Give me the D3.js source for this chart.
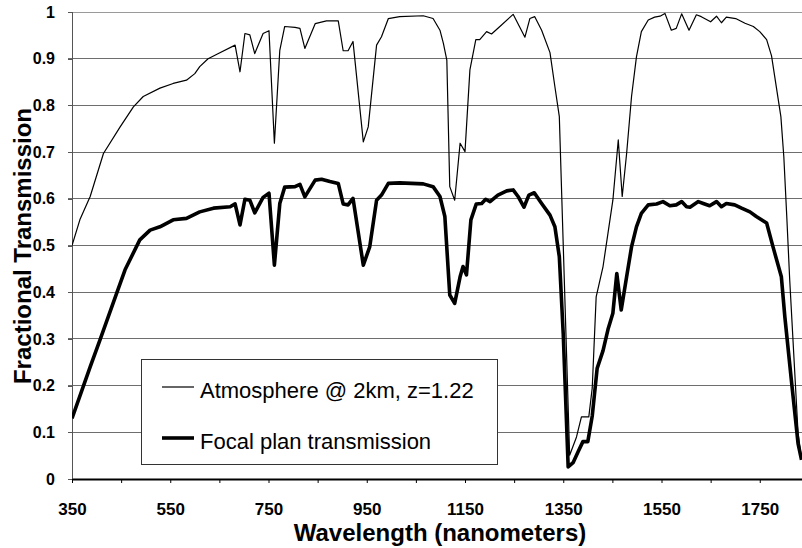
<!DOCTYPE html>
<html>
<head>
<meta charset="utf-8">
<script src="https://cdn.jsdelivr.net/npm/d3@7"></script>
<style>
  html, body { margin: 0; padding: 0; background: #fff; }
  svg { display: block; font-family: "Liberation Sans", Arial, sans-serif; }
</style>
</head>
<body>
<svg id="chart" width="802" height="548"></svg>
<script>
// Atmosphere @ 2km, z=1.22 (thin line)
const atmWavelength = [350, 366, 387, 414, 448, 475, 495, 529, 556, 583, 600, 610, 627, 648, 682, 692, 702, 712, 722, 739,
  751, 762, 773, 783, 804, 814, 824, 845, 868, 892, 902, 912, 922, 943, 953, 970, 980, 994, 1017, 1065,
  1085, 1099, 1106, 1113, 1119, 1129, 1140, 1150, 1160, 1172, 1180, 1194, 1204, 1221, 1248, 1272, 1282, 1292, 1306, 1323,
  1333, 1342, 1363, 1377, 1387, 1402, 1409, 1417, 1431, 1441, 1451, 1462, 1470, 1479, 1489, 1499, 1509, 1523, 1536, 1547,
  1557, 1570, 1580, 1591, 1606, 1621, 1631, 1650, 1662, 1672, 1682, 1701, 1720, 1737, 1750, 1764, 1774, 1793, 1799, 1805,
  1811, 1828, 1835];
const atmTransmission = [0.50, 0.555, 0.605, 0.697, 0.754, 0.797, 0.819, 0.837, 0.847, 0.854, 0.868, 0.883, 0.90, 0.911, 0.929, 0.872, 0.954, 0.951, 0.911, 0.954,
  0.96, 0.719, 0.918, 0.969, 0.967, 0.965, 0.922, 0.975, 0.981, 0.981, 0.917, 0.917, 0.937, 0.722, 0.754, 0.929, 0.947, 0.986, 0.99, 0.992,
  0.986, 0.961, 0.933, 0.897, 0.626, 0.597, 0.719, 0.701, 0.876, 0.941, 0.941, 0.958, 0.953, 0.969, 0.995, 0.946, 0.986, 0.99, 0.961, 0.913,
  0.84, 0.776, 0.051, 0.09, 0.133, 0.133, 0.195, 0.39, 0.455, 0.526, 0.597, 0.726, 0.605, 0.697, 0.819, 0.904, 0.958, 0.983, 0.989, 0.991,
  0.997, 0.961, 0.965, 0.996, 0.961, 0.994, 0.99, 0.979, 0.991, 0.977, 0.989, 0.986, 0.976, 0.969, 0.958, 0.941, 0.906, 0.776, 0.69, 0.562,
  0.426, 0.098, 0.044];

// Focal plan transmission (thick line)
const fpWavelength = [350, 387, 407, 441, 458, 488, 509, 529, 556, 583, 610, 638, 672, 682, 692, 702, 712, 722, 739, 751,
  762, 773, 783, 804, 814, 824, 845, 858, 875, 892, 902, 912, 922, 943, 956, 970, 980, 994, 1017, 1065,
  1085, 1099, 1109, 1119, 1129, 1140, 1146, 1153, 1162, 1173, 1184, 1192, 1201, 1217, 1235, 1248, 1258, 1270, 1280, 1291,
  1306, 1323, 1333, 1342, 1350, 1360, 1370, 1380, 1390, 1400, 1409, 1419, 1431, 1441, 1451, 1459, 1468, 1479, 1489, 1499,
  1509, 1523, 1540, 1553, 1567, 1580, 1591, 1601, 1608, 1625, 1635, 1648, 1662, 1672, 1682, 1699, 1713, 1730, 1743, 1764,
  1777, 1794, 1801, 1815, 1828, 1835];
const fpTransmission = [0.13, 0.24, 0.298, 0.398, 0.448, 0.512, 0.533, 0.54, 0.555, 0.558, 0.572, 0.58, 0.583, 0.589, 0.544, 0.599, 0.597, 0.57, 0.603, 0.612,
  0.458, 0.59, 0.625, 0.626, 0.631, 0.604, 0.64, 0.642, 0.637, 0.633, 0.589, 0.587, 0.601, 0.458, 0.497, 0.597, 0.608, 0.633, 0.634, 0.632,
  0.626, 0.605, 0.562, 0.394, 0.376, 0.433, 0.455, 0.437, 0.555, 0.589, 0.59, 0.599, 0.594, 0.608, 0.617, 0.619, 0.605, 0.582, 0.608, 0.613,
  0.59, 0.565, 0.54, 0.476, 0.31, 0.026, 0.035, 0.058, 0.08, 0.08, 0.135, 0.237, 0.275, 0.32, 0.355, 0.44, 0.362, 0.433, 0.497, 0.54,
  0.569, 0.587, 0.589, 0.594, 0.585, 0.587, 0.594, 0.583, 0.582, 0.594, 0.59, 0.585, 0.594, 0.583, 0.59, 0.587, 0.58, 0.572, 0.562, 0.548,
  0.497, 0.433, 0.348, 0.205, 0.076, 0.041];

const xTicks = [350, 450, 550, 650, 750, 850, 950, 1050, 1150, 1250, 1350, 1450, 1550, 1650, 1750];
const xTickLabels = [350, 550, 750, 950, 1150, 1350, 1550, 1750];
const yTicks = [0, 0.1, 0.2, 0.3, 0.4, 0.5, 0.6, 0.7, 0.8, 0.9, 1];

const seriesNames = ['Atmosphere @ 2km, z=1.22', 'Focal plan transmission'];

const svg = d3.select('#chart');
const width = 802;
const plot = { left: 72, right: 802, top: 12, bottom: 479 };

const x = d3.scaleLinear().domain([350, 1836]).range([plot.left, plot.right]);
const y = d3.scaleLinear().domain([0, 1]).range([plot.bottom, plot.top]);

svg.append('rect').attr('width', width).attr('height', 548).attr('fill', '#fff');

// Horizontal gridlines
svg.append('g')
  .selectAll('line')
  .data(yTicks.filter(d => d > 0))
  .join('line')
  .attr('x1', plot.left - 4)
  .attr('x2', plot.right)
  .attr('y1', d => y(d))
  .attr('y2', d => y(d))
  .attr('stroke', d => d === 1 ? '#9a9a9a' : '#6e6e6e')
  .attr('stroke-width', 1)
  .attr('shape-rendering', 'crispEdges');

// Y axis
const yAxis = d3.axisLeft(y)
  .tickValues(yTicks)
  .tickSize(4)
  .tickPadding(13)
  .tickFormat(d3.format('~g'));
const yg = svg.append('g')
  .attr('transform', `translate(${plot.left},0)`)
  .call(yAxis);
yg.select('.domain').attr('stroke', '#555').attr('shape-rendering', 'crispEdges');
yg.selectAll('.tick line').attr('stroke', '#555').attr('shape-rendering', 'crispEdges');
yg.selectAll('.tick text')
  .attr('font-family', '"Liberation Sans", Arial, sans-serif')
  .attr('font-size', 16)
  .attr('font-weight', 'bold')
  .attr('fill', '#000');

// X axis
const xAxis = d3.axisBottom(x)
  .tickValues(xTicks)
  .tickSize(4)
  .tickSizeOuter(0)
  .tickPadding(20)
  .tickFormat(d => xTickLabels.includes(d) ? d : '');
const xg = svg.append('g')
  .attr('transform', `translate(0,${plot.bottom})`)
  .call(xAxis);
xg.select('.domain').attr('stroke', '#000').attr('stroke-width', 2);
xg.selectAll('.tick line').attr('stroke', '#000');
xg.selectAll('.tick text')
  .attr('font-family', '"Liberation Sans", Arial, sans-serif')
  .attr('font-size', 17)
  .attr('font-weight', 'bold')
  .attr('fill', '#000');

// Clip curves to the plot area
svg.append('clipPath').attr('id', 'plot-clip')
  .append('rect')
  .attr('x', plot.left).attr('y', 0)
  .attr('width', plot.right - plot.left).attr('height', plot.bottom + 2);

const line = d3.line()
  .x(d => x(d[0]))
  .y(d => y(d[1]));

const atmData = atmWavelength.map((w, i) => [w, atmTransmission[i]]);
const fpData = fpWavelength.map((w, i) => [w, fpTransmission[i]]);

const curves = svg.append('g').attr('clip-path', 'url(#plot-clip)');
curves.append('path')
  .datum(atmData)
  .attr('d', line)
  .attr('fill', 'none')
  .attr('stroke', '#000')
  .attr('stroke-width', 1.2)
  .attr('stroke-linejoin', 'round');
curves.append('path')
  .datum(fpData)
  .attr('d', line)
  .attr('fill', 'none')
  .attr('stroke', '#000')
  .attr('stroke-width', 3.6)
  .attr('stroke-linejoin', 'round');

// Legend
const legend = svg.append('g');
legend.append('rect')
  .attr('x', 141.5).attr('y', 359.5)
  .attr('width', 356).attr('height', 105)
  .attr('fill', '#fff')
  .attr('stroke', '#333')
  .attr('stroke-width', 1);
[1.2, 3.6].forEach((w, i) => {
  const cy = 387 + i * 51;
  legend.append('line')
    .attr('x1', 162).attr('x2', 194)
    .attr('y1', cy).attr('y2', cy)
    .attr('stroke', '#000')
    .attr('stroke-width', w);
  legend.append('text')
    .attr('x', 200).attr('y', cy + 11)
    .attr('font-size', 22)
    .attr('fill', '#000')
    .text(seriesNames[i]);
});

// Axis titles
svg.append('text')
  .attr('x', 440).attr('y', 541)
  .attr('text-anchor', 'middle')
  .attr('font-size', 24)
  .attr('font-weight', 'bold')
  .text('Wavelength (nanometers)');
svg.append('text')
  .attr('transform', 'translate(31,246) rotate(-90)')
  .attr('text-anchor', 'middle')
  .attr('font-size', 24)
  .attr('font-weight', 'bold')
  .text('Fractional Transmission');
</script>
</body>
</html>
